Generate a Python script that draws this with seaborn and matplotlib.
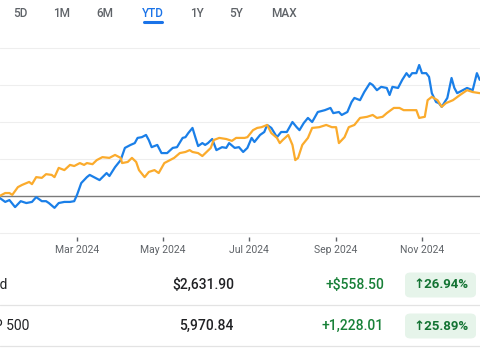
import pandas as pd
import seaborn as sns
import matplotlib.pyplot as plt
import matplotlib.dates as mdates
from matplotlib.patches import FancyBboxPatch
from matplotlib.lines import Line2D

# YTD % change (dates are MM-DD in 2024)
gold_dates = ['01-02', '01-06', '01-10', '01-13', '01-17', '01-21', '01-25', '01-29',
              '02-01', '02-05', '02-08', '02-10', '02-14', '02-17', '02-21', '02-25', '02-28',
              '03-01', '03-04', '03-08', '03-10', '03-14', '03-17', '03-22', '03-24', '03-28',
              '04-01', '04-04', '04-08', '04-11', '04-13', '04-16', '04-19', '04-21', '04-23', '04-27', '04-30',
              '05-04', '05-08', '05-11', '05-15', '05-17', '05-19', '05-22', '05-24', '05-26', '05-29', '05-31',
              '06-02', '06-05', '06-08', '06-12', '06-15', '06-17', '06-21', '06-24', '06-27', '06-30',
              '07-03', '07-05', '07-09', '07-12', '07-14', '07-17', '07-21', '07-24', '07-28',
              '08-01', '08-04', '08-06', '08-09', '08-12', '08-15', '08-19', '08-24', '08-28', '08-30',
              '09-03', '09-05', '09-09', '09-12', '09-14', '09-18', '09-21', '09-25', '09-27', '09-30',
              '10-03', '10-07', '10-09', '10-11', '10-15', '10-18', '10-21', '10-23', '10-25', '10-28', '10-30',
              '11-01', '11-04', '11-06', '11-08', '11-11', '11-13', '11-15', '11-19', '11-22', '11-24', '11-26', '11-30',
              '12-03', '12-07', '12-10', '12-12']
gold_pct = [0.0, -0.5, -1.6, -1.1, -3.0, -1.4, -1.9, -1.6,
            -0.3, -1.4, -1.4, -1.9, -3.2, -1.9, -1.6, -1.6, -1.4,
            0.3, 3.5, 5.1, 5.7, 4.9, 4.3, 6.2, 5.4, 7.8,
            9.7, 13.0, 13.8, 14.3, 15.7, 15.9, 16.5, 15.1, 13.2, 13.8, 11.6,
            11.6, 13.0, 13.2, 15.7, 15.9, 17.0, 18.4, 15.9, 13.5, 14.3, 13.8,
            14.3, 15.4, 12.4, 13.2, 13.0, 14.3, 13.0, 13.2, 11.9, 13.0,
            15.7, 14.6, 16.5, 17.3, 19.2, 18.4, 15.9, 17.3, 17.3,
            20.0, 18.6, 17.8, 19.7, 21.1, 20.0, 22.7, 23.2, 23.8, 22.4,
            22.7, 21.9, 22.7, 25.4, 26.5, 25.9, 28.1, 30.5, 30.0, 28.6,
            29.5, 29.2, 27.3, 29.5, 29.2, 31.4, 33.2, 32.2, 33.2, 33.2, 35.4,
            33.2, 33.2, 32.2, 27.8, 25.4, 25.1, 24.1, 26.5, 31.9, 29.2, 27.8, 28.6,
            29.2, 28.6, 33.2, 31.4]

sp_dates = ['01-02', '01-06', '01-10', '01-13', '01-15', '01-19', '01-22', '01-27', '01-29',
            '02-01', '02-05', '02-08', '02-12', '02-14', '02-17', '02-21', '02-25', '02-28',
            '03-03', '03-06', '03-08', '03-12', '03-15', '03-19', '03-24', '03-28',
            '04-01', '04-02', '04-06', '04-09', '04-12', '04-14', '04-18', '04-21', '04-25', '04-28',
            '05-02', '05-06', '05-09', '05-13', '05-17', '05-20', '05-22', '05-26', '05-29',
            '06-01', '06-04', '06-06', '06-10', '06-15', '06-19', '06-22', '06-28', '06-30',
            '07-04', '07-07', '07-10', '07-14', '07-17', '07-21', '07-23', '07-25', '07-29',
            '08-01', '08-03', '08-05', '08-08', '08-12', '08-15', '08-20', '08-25', '08-29',
            '09-01', '09-03', '09-07', '09-10', '09-14', '09-18', '09-23', '09-27', '09-30',
            '10-04', '10-07', '10-12', '10-16', '10-19', '10-23', '10-28', '10-30',
            '11-03', '11-05', '11-08', '11-12', '11-15', '11-18', '11-23', '11-28',
            '12-03', '12-07', '12-12']
sp_pct = [0.0, 0.0, 0.8, 0.8, 0.3, 2.4, 3.0, 3.8, 3.2,
          5.1, 4.9, 5.9, 5.7, 5.1, 7.6, 7.0, 8.4, 8.1,
          8.9, 8.4, 8.9, 8.6, 9.7, 10.5, 10.3, 11.1,
          10.3, 8.9, 9.2, 10.3, 9.2, 7.0, 5.1, 6.5, 7.0, 6.2,
          8.9, 9.7, 10.3, 11.6, 11.9, 12.4, 11.9, 11.6, 10.8,
          11.9, 13.0, 15.1, 15.7, 15.4, 14.9, 15.7, 15.7, 15.9,
          17.8, 18.4, 18.6, 19.2, 17.0, 15.7, 14.3, 15.1, 16.5,
          13.8, 9.7, 10.3, 13.8, 15.7, 18.4, 18.6, 19.2, 18.6,
          18.6, 14.3, 15.9, 18.6, 19.2, 21.1, 21.4, 21.9, 21.1,
          21.4, 22.4, 23.8, 23.8, 23.2, 23.2, 23.2, 21.1,
          21.4, 25.9, 26.8, 25.9, 24.1, 25.1, 25.9, 27.3,
          28.6, 28.1, 27.8]

periods = ['5D', '1M', '6M', 'YTD', '1Y', '5Y', 'MAX']
names = ['Gold', 'S&P 500']
prices = ['$2,631.90', '5,970.84']
changes = ['+$558.50', '+1,228.01']
pct_changes = ['26.94%', '25.89%']

sns.set_style("white")
plt.rcParams['font.family'] = ['Roboto', 'DejaVu Sans']

df = pd.concat([
    pd.DataFrame({'date': pd.to_datetime(['2024-' + d for d in gold_dates]), 'pct': gold_pct, 'name': 'Gold'}),
    pd.DataFrame({'date': pd.to_datetime(['2024-' + d for d in sp_dates]), 'pct': sp_pct, 'name': 'S&P 500'}),
])

W, H = 480, 355
fig = plt.figure(figsize=(W / 100, H / 100), dpi=100)

# chart is cropped on both sides, like the screenshot
ax = fig.add_axes([0, (H - 236.7) / H, 1, (236.7 - 44.3) / H])
sns.lineplot(data=df, x='date', y='pct', hue='name',
             palette={'Gold': '#1a7fe8', 'S&P 500': '#fbab2c'},
             linewidth=1.6, legend=False, ax=ax)

ax.set_xlim(pd.Timestamp('2024-01-06 07:00'), pd.Timestamp('2024-12-12 05:00'))
ax.set_ylim(-11, 41)
ax.set_yticks([-10, 0, 10, 20, 30, 40])
ax.yaxis.grid(True, color='#eeeeee', lw=0.8)
ax.set_axisbelow(True)
ax.axhline(0, color='#7a7a7a', lw=1.0, zorder=1)
ax.tick_params(axis='y', left=False, labelleft=False)

ax.set_xticks(pd.to_datetime(['2024-03-01', '2024-05-01', '2024-07-01', '2024-09-01', '2024-11-01']))
ax.xaxis.set_major_formatter(mdates.DateFormatter('%b %Y'))
ax.tick_params(axis='x', bottom=True, length=3, width=1, color='#5f6368',
               labelsize=7.5, labelcolor='#5f6368', pad=3)
ax.set_xlabel('')
ax.set_ylabel('')
sns.despine(ax=ax, left=True, bottom=True)

def fy(y):
    return 1 - y / H

# range buttons
btn_x = [20, 62, 105, 153, 197, 236, 284]
for p, bx in zip(periods, btn_x):
    sel = p == 'YTD'
    fig.text(bx / W, fy(13.5), p, ha='center', va='center', fontsize=8.5,
             color='#1a73e8' if sel else '#5f6368', fontweight=500)
fig.add_artist(Line2D([144 / W, 162 / W], [fy(22.3), fy(22.3)], color='#1a73e8',
                      lw=2.2, solid_capstyle='round', transform=fig.transFigure))

# table
for ly in [305, 346]:
    fig.add_artist(Line2D([0, 1], [fy(ly), fy(ly)], color='#e3e3e3', lw=0.9,
                          transform=fig.transFigure))

row_y = [285, 326]
name_right = [8, 29]
for i in range(2):
    yy = fy(row_y[i])
    fig.text(name_right[i] / W, yy, names[i], ha='right', va='center', fontsize=10, color='#202124')
    fig.text(234 / W, yy, prices[i], ha='right', va='center', fontsize=10, color='#202124', fontweight=500)
    fig.text(384 / W, yy, changes[i], ha='right', va='center', fontsize=10, color='#188038', fontweight=500)
    pill = FancyBboxPatch((405 / W, fy(row_y[i] + 12.5)), 71 / W, 25 / H,
                          boxstyle='round,pad=0,rounding_size=0.012',
                          transform=fig.transFigure, facecolor='#e6f4ea', edgecolor='none')
    fig.add_artist(pill)
    fig.text(441 / W, yy, '\u2191' + pct_changes[i], ha='center', va='center', fontsize=9.5,
             color='#137333', fontweight='bold')

fig.savefig('out.png', dpi=100)
